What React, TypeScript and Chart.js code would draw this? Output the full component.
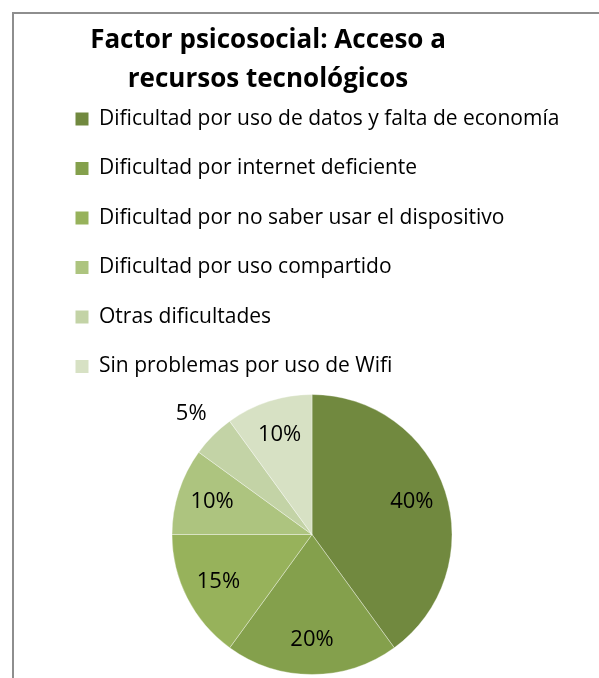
import React, { useEffect, useRef } from "react";
import { Chart, registerables } from "chart.js";

Chart.register(...registerables);

const titleLines = ["Factor psicosocial: Acceso a", "recursos tecnológicos"];
const categories = [
  "Dificultad por uso de datos y falta de economía",
  "Dificultad por internet deficiente",
  "Dificultad por no saber usar el dispositivo",
  "Dificultad por uso compartido",
  "Otras dificultades",
  "Sin problemas por uso de Wifi",
];
const values = [40, 20, 15, 10, 5, 10];
const colors = ["#71893F", "#84A04C", "#97B25B", "#ADC47F", "#C3D3A6", "#D7E1C4"];

const FONT = "'Open Sans', Lato, sans-serif";

const titlePlugin = {
  id: "customTitle",
  afterDraw(chart: any) {
    const ctx = chart.ctx;
    ctx.save();
    ctx.fillStyle = "#000";
    ctx.font = `bold 26px ${FONT}`;
    ctx.textAlign = "center";
    ctx.textBaseline = "alphabetic";
    const cx = 254;
    ctx.fillText(titleLines[0], cx, 34);
    ctx.fillText(titleLines[1], cx, 73);
    ctx.restore();
  },
};

const labelPlugin = {
  id: "sliceLabels",
  afterDatasetsDraw(chart: any) {
    const ctx = chart.ctx;
    const meta = chart.getDatasetMeta(0);
    const data = chart.data.datasets[0].data as number[];
    const total = data.reduce((a, b) => a + b, 0);
    ctx.save();
    ctx.fillStyle = "#000";
    ctx.font = `22px ${FONT}`;
    ctx.textAlign = "center";
    ctx.textBaseline = "middle";
    meta.data.forEach((arc: any, i: number) => {
      const { x, y, startAngle, endAngle, outerRadius } = arc.getProps(
        ["x", "y", "startAngle", "endAngle", "outerRadius"],
        true
      );
      const mid = (startAngle + endAngle) / 2;
      const frac = data[i] / total < 0.08 ? 1.22 : 0.75;
      const r = outerRadius * frac;
      ctx.fillText(`${data[i]}%`, x + Math.cos(mid) * r, y + Math.sin(mid) * r);
    });
    ctx.restore();
  },
};

export default function App() {
  const ref = useRef<HTMLCanvasElement>(null);
  useEffect(() => {
    if (!ref.current) return;
    const chart = new Chart(ref.current, {
      type: "pie",
      data: {
        labels: categories,
        datasets: [
          {
            data: values,
            backgroundColor: colors,
            borderColor: "rgba(255,255,255,0.35)",
            borderWidth: 1,
            radius: 140,
          } as any,
        ],
      },
      options: {
        responsive: false,
        devicePixelRatio: 1,
        animation: false,
        layout: { padding: { left: 33, right: 22, top: 66, bottom: 8 } },
        plugins: {
          tooltip: { enabled: false },
          title: { display: false },
          legend: {
            display: true,
            position: "top",
            align: "start",
            labels: {
              boxWidth: 13,
              boxHeight: 13,
              padding: 28.5,
              color: "#000",
              font: { family: FONT, size: 21 },
              generateLabels: (c: any) =>
                (Chart as any).overrides.pie.plugins.legend.labels
                  .generateLabels(c)
                  .map((l: any) => ({ ...l, lineWidth: 0, strokeStyle: "rgba(0,0,0,0)" })),
            },
          },
        },
      },
      plugins: [titlePlugin, labelPlugin],
    });
    return () => chart.destroy();
  }, []);

  return (
    <div
      style={{
        position: "absolute",
        left: 0,
        top: 0,
        width: 599,
        height: 678,
        overflow: "hidden",
        background: "#fff",
      }}
    >
      <div
        style={{
          position: "absolute",
          left: 12,
          top: 12,
          width: 700,
          height: 800,
          borderLeft: "2px solid #8e8e8e",
          borderTop: "2px solid #8e8e8e",
        }}
      />
      <canvas
        ref={ref}
        width={585}
        height={680}
        style={{ position: "absolute", left: 14, top: 14, width: 585, height: 680, display: "block" }}
      />
    </div>
  );
}
